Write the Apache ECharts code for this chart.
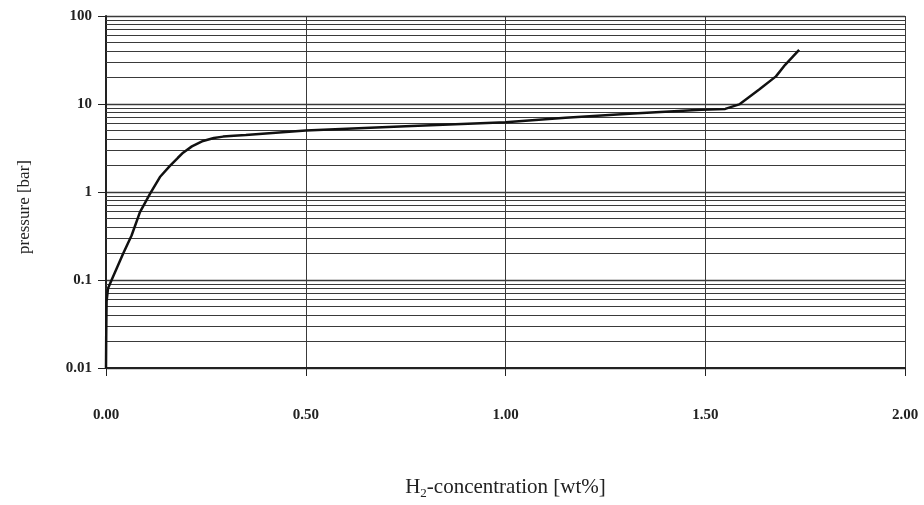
<!DOCTYPE html>
<html>
<head>
<meta charset="utf-8">
<script src="https://cdn.jsdelivr.net/npm/echarts@6/dist/echarts.min.js"></script>
<style>
  html, body { margin: 0; padding: 0; background: #fff; }
  #chart { width: 924px; height: 505px; }
</style>
</head>
<body>
<div id="chart"></div>
<script>
// H2 concentration [wt%]
var conc = [0, 0.0005, 0.001, 0.0015, 0.005, 0.014, 0.028, 0.043, 0.064, 0.085, 0.11, 0.135, 0.16, 0.18, 0.193, 0.215, 0.243, 0.27, 0.293, 0.32, 0.35, 0.5, 0.75, 1.0, 1.15, 1.32, 1.49, 1.55, 1.585, 1.635, 1.677, 1.70, 1.735];
// pressure [bar]
var pressure = [0.01, 0.022, 0.037, 0.057, 0.08, 0.1, 0.14, 0.2, 0.32, 0.59, 0.95, 1.48, 1.98, 2.45, 2.8, 3.3, 3.8, 4.1, 4.26, 4.35, 4.45, 5.0, 5.6, 6.2, 7.0, 7.8, 8.6, 8.8, 9.9, 14.6, 20.6, 27.9, 41.3];

var xTicks = ['0.00', '0.50', '1.00', '1.50', '2.00'];
var yTicks = ['0.01', '0.1', '1', '10', '100'];

// minor grid lines 2..9 of each decade
var minorLines = [];
[0.01, 0.1, 1, 10].forEach(function (d) {
  for (var k = 2; k <= 9; k++) {
    minorLines.push({ yAxis: +(k * d).toPrecision(3) });
  }
});

var points = conc.map(function (c, i) { return [c, pressure[i]]; });

var gridColor = '#3a3a3a';

var chart = echarts.init(document.getElementById('chart'));
var option = {
  animation: false,
  backgroundColor: '#fff',
  grid: { left: 106, right: 19, top: 16, bottom: 135 },
  xAxis: {
    type: 'value',
    min: 0, max: 2, interval: 0.5,
    name: '{a|H}{s|2}{a|-concentration [wt%]}',
    nameLocation: 'middle',
    nameGap: 107,
    nameTextStyle: {
      rich: {
        a: { fontFamily: 'Liberation Serif', fontSize: 21, color: '#222' },
        s: { fontFamily: 'Liberation Serif', fontSize: 13, color: '#222', padding: [12, 0, 0, 0] }
      }
    },
    axisLine: { lineStyle: { color: '#222', width: 2 } },
    axisTick: { show: true, length: 8, lineStyle: { color: '#222' } },
    axisLabel: {
      margin: 40,
      fontFamily: 'Liberation Serif', fontWeight: 'bold', fontSize: 15, color: '#222',
      formatter: function (v) { return xTicks[Math.round(v / 0.5)]; }
    },
    splitLine: { show: true, lineStyle: { color: gridColor, width: 1 } }
  },
  yAxis: {
    type: 'log',
    logBase: 10,
    min: 0.01, max: 100,
    name: 'pressure [bar]',
    nameLocation: 'middle',
    nameGap: 73,
    nameTextStyle: { fontFamily: 'Liberation Serif', fontSize: 17, color: '#222', padding: [0, 30, 0, 0] },
    axisLine: { lineStyle: { color: '#222', width: 2 } },
    axisTick: { show: true, length: 8, lineStyle: { color: '#222' } },
    axisLabel: {
      margin: 14,
      fontFamily: 'Liberation Serif', fontWeight: 'bold', fontSize: 15, color: '#222',
      formatter: function (v) { return yTicks[Math.round(Math.log10(v)) + 2]; }
    },
    splitLine: { show: true, lineStyle: { color: gridColor, width: 1.3 } }
  },
  series: [{
    type: 'line',
    data: points,
    showSymbol: false,
    symbol: 'none',
    lineStyle: { color: '#111', width: 2.5 },
    z: 5,
    markLine: {
      silent: true,
      symbol: 'none',
      label: { show: false },
      lineStyle: { color: gridColor, width: 1.2, type: 'solid' },
      emphasis: { disabled: true },
      data: minorLines,
      z: 1
    }
  }]
};
chart.setOption(option);
</script>
</body>
</html>
